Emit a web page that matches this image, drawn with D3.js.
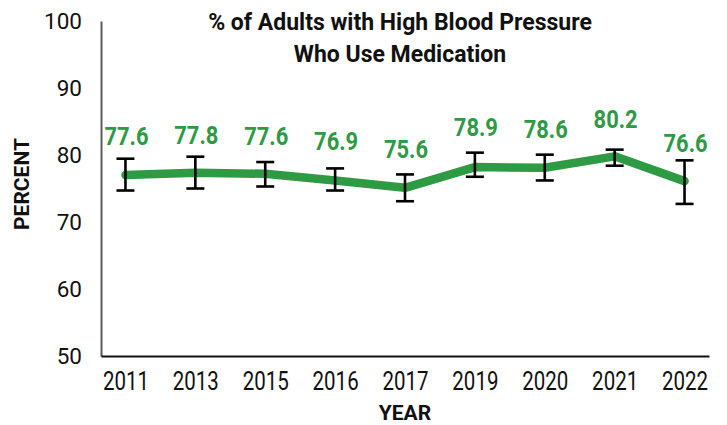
<!DOCTYPE html>
<html>
<head>
<meta charset="utf-8">
<script src="https://cdn.jsdelivr.net/npm/d3@7"></script>
<style>
  body{margin:0;background:#fff;}
  svg{display:block;font-family:Roboto, "Noto Sans", sans-serif;}
</style>
</head>
<body>
<svg id="chart" width="727" height="425"></svg>
<script>
//data ------------------------------------------------
var years=['2011','2013','2015','2016','2017','2019','2020','2021','2022'];
var labelVals=[77.6,77.8,77.6,76.9,75.6,78.9,78.6,80.2,76.6];
var plotted=[77.0,77.35,77.2,76.2,75.1,78.2,78.1,79.8,76.1];
var lower=[74.7,75.0,75.3,74.7,73.1,76.75,76.2,78.4,72.7];
var upper=[79.45,79.75,78.95,78.0,77.1,80.35,80.05,80.8,79.2];
var yTicks=[50,60,70,80,90,100];

var green='#2e9a44';
var margin={top:21,right:18,bottom:69,left:101};
var W=727,H=425;

var svg=d3.select('#chart');

var x=d3.scalePoint()
  .domain(years)
  .range([margin.left,W-margin.right])
  .padding(0.35);
var y=d3.scaleLinear()
  .domain([50,100])
  .range([H-margin.bottom,margin.top]);

var pts=years.map(function(yr,i){
  return {year:yr,v:plotted[i],lo:lower[i],hi:upper[i],lab:labelVals[i]};
});

//axes
var yAxis=svg.append('g')
  .attr('transform','translate('+margin.left+',0)')
  .call(d3.axisLeft(y).tickValues(yTicks).tickSize(0).tickPadding(19));
yAxis.select('.domain').attr('stroke','#5a5a5a').attr('stroke-width',2);
yAxis.selectAll('text').attr('font-size',22.5).attr('fill','#111').attr('font-family','Roboto');

var xAxis=svg.append('g')
  .attr('transform','translate(0,'+(H-margin.bottom)+')')
  .call(d3.axisBottom(x).tickSize(0).tickPadding(16));
xAxis.select('.domain').attr('stroke','#111').attr('stroke-width',2);
xAxis.selectAll('text')
  .attr('font-size',25)
  .attr('fill','#111')
  .attr('font-family','Roboto')
  .attr('transform','scale(0.82,1)');

//line
var line=d3.line()
  .x(d=>x(d.year))
  .y(d=>y(d.v));
svg.append('path')
  .datum(pts)
  .attr('d',line)
  .attr('fill','none')
  .attr('stroke',green)
  .attr('stroke-width',8.5)
  .attr('stroke-linejoin','round')
  .attr('stroke-linecap','round');

//error bars
var cap=9;
var eb=svg.append('g').attr('stroke','#000').attr('stroke-width',2.6);
pts.forEach(function(d){
  var cx=x(d.year);
  eb.append('line').attr('x1',cx).attr('x2',cx).attr('y1',y(d.lo)).attr('y2',y(d.hi));
  eb.append('line').attr('x1',cx-cap).attr('x2',cx+cap).attr('y1',y(d.lo)).attr('y2',y(d.lo));
  eb.append('line').attr('x1',cx-cap).attr('x2',cx+cap).attr('y1',y(d.hi)).attr('y2',y(d.hi));
});

//value labels
svg.append('g').selectAll('g')
  .data(pts)
  .join('g')
  .attr('transform',d=>'translate('+(x(d.year)+1)+','+(y(d.lab)-26)+')')
  .append('text')
  .attr('transform','scale(0.86,1)')
  .attr('text-anchor','middle')
  .attr('font-size',25.5)
  .attr('font-weight',700)
  .attr('fill',green)
  .text(d=>d3.format('.1f')(d.lab));

//titles
var title=svg.append('text')
  .attr('text-anchor','middle')
  .attr('font-size',23)
  .attr('font-weight',700)
  .attr('fill','#111');
title.append('tspan').attr('x',400).attr('y',30).text('% of Adults with High Blood Pressure');
title.append('tspan').attr('x',400).attr('y',62).text('Who Use Medication');

svg.append('text')
  .attr('transform','translate(29,184) rotate(-90)')
  .attr('text-anchor','middle')
  .attr('font-size',21)
  .attr('font-weight',700)
  .attr('fill','#111')
  .text('PERCENT');

svg.append('text')
  .attr('x',(margin.left+W-margin.right)/2)
  .attr('y',420)
  .attr('text-anchor','middle')
  .attr('font-size',21)
  .attr('font-weight',700)
  .attr('fill','#111')
  .text('YEAR');
</script>
</body>
</html>
